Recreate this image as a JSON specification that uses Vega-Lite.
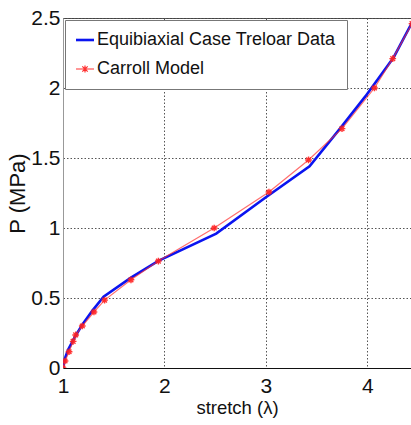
{
  "$schema": "https://vega.github.io/schema/vega-lite/v6.json",
  "width": 348,
  "height": 350,
  "autosize": {"type": "none"},
  "padding": {"left": 63, "top": 18, "right": 0, "bottom": 57},
  "background": "white",
  "config": {
    "view": {"stroke": "#444", "strokeWidth": 1},
    "font": "Liberation Sans",
    "axis": {
      "labelFont": "Liberation Sans",
      "titleFont": "Liberation Sans",
      "titleFontWeight": "normal",
      "labelColor": "#111",
      "titleColor": "#111",
      "ticks": false,
      "grid": true,
      "gridColor": "#555",
      "gridDash": [1.5, 2],
      "gridWidth": 1,
      "domainColor": "#999"
    }
  },
  "data": {
    "values": [
      {"series": "Equibiaxial Case Treloar Data", "stretch": 1.0, "P": 0.0},
      {"series": "Equibiaxial Case Treloar Data", "stretch": 1.02, "P": 0.07},
      {"series": "Equibiaxial Case Treloar Data", "stretch": 1.05, "P": 0.13},
      {"series": "Equibiaxial Case Treloar Data", "stretch": 1.12, "P": 0.225},
      {"series": "Equibiaxial Case Treloar Data", "stretch": 1.19, "P": 0.31},
      {"series": "Equibiaxial Case Treloar Data", "stretch": 1.29, "P": 0.41},
      {"series": "Equibiaxial Case Treloar Data", "stretch": 1.4, "P": 0.51},
      {"series": "Equibiaxial Case Treloar Data", "stretch": 1.67, "P": 0.645},
      {"series": "Equibiaxial Case Treloar Data", "stretch": 1.94, "P": 0.765},
      {"series": "Equibiaxial Case Treloar Data", "stretch": 2.51, "P": 0.96},
      {"series": "Equibiaxial Case Treloar Data", "stretch": 3.0, "P": 1.22},
      {"series": "Equibiaxial Case Treloar Data", "stretch": 3.43, "P": 1.44},
      {"series": "Equibiaxial Case Treloar Data", "stretch": 3.73, "P": 1.71},
      {"series": "Equibiaxial Case Treloar Data", "stretch": 3.98, "P": 1.94},
      {"series": "Equibiaxial Case Treloar Data", "stretch": 4.26, "P": 2.22},
      {"series": "Equibiaxial Case Treloar Data", "stretch": 4.5, "P": 2.55},
      {"series": "Carroll Model", "stretch": 1.0, "P": 0.0},
      {"series": "Carroll Model", "stretch": 1.02, "P": 0.05},
      {"series": "Carroll Model", "stretch": 1.06, "P": 0.116},
      {"series": "Carroll Model", "stretch": 1.1, "P": 0.19},
      {"series": "Carroll Model", "stretch": 1.125, "P": 0.236},
      {"series": "Carroll Model", "stretch": 1.19, "P": 0.3},
      {"series": "Carroll Model", "stretch": 1.305, "P": 0.4},
      {"series": "Carroll Model", "stretch": 1.41, "P": 0.485},
      {"series": "Carroll Model", "stretch": 1.67, "P": 0.63},
      {"series": "Carroll Model", "stretch": 1.94, "P": 0.764},
      {"series": "Carroll Model", "stretch": 2.49, "P": 1.0},
      {"series": "Carroll Model", "stretch": 3.03, "P": 1.257},
      {"series": "Carroll Model", "stretch": 3.42, "P": 1.486},
      {"series": "Carroll Model", "stretch": 3.75, "P": 1.71},
      {"series": "Carroll Model", "stretch": 4.07, "P": 2.0},
      {"series": "Carroll Model", "stretch": 4.25, "P": 2.21},
      {"series": "Carroll Model", "stretch": 4.44, "P": 2.46}
    ]
  },
  "encoding": {
    "x": {
      "field": "stretch",
      "type": "quantitative",
      "scale": {"domain": [1, 4.43], "nice": false, "zero": false},
      "axis": {
        "title": "stretch (λ)",
        "values": [1, 2, 3, 4],
        "labelFontSize": 21,
        "labelPadding": 7,
        "titleFontSize": 18.5,
        "titlePadding": 2,
        "domainColor": "#111",
        "labelFlush": false
      }
    },
    "y": {
      "field": "P",
      "type": "quantitative",
      "scale": {"domain": [0, 2.5], "nice": false},
      "axis": {
        "title": "P  (MPa)",
        "values": [0, 0.5, 1, 1.5, 2, 2.5],
        "labelExpr": "'' + datum.value",
        "labelFontSize": 21,
        "labelPadding": 3,
        "titleFontSize": 22,
        "titlePadding": 1,
        "labelFlush": false
      }
    }
  },
  "layer": [
    {
      "mark": {"type": "line", "clip": true, "strokeWidth": 2.6},
      "transform": [{"filter": "datum.series === 'Equibiaxial Case Treloar Data'"}],
      "encoding": {
        "color": {
          "field": "series",
          "type": "nominal",
          "scale": {
            "domain": ["Equibiaxial Case Treloar Data", "Carroll Model"],
            "range": ["#0a14f0", "#ff3030"]
          },
          "legend": {
            "title": null,
            "orient": "top-left",
            "offset": 2,
            "padding": 11,
            "fillColor": "white",
            "strokeColor": "#777",
            "labelFont": "Liberation Sans",
            "labelFontSize": 18,
            "labelColor": "#111",
            "labelLimit": 400,
            "labelOffset": 3,
            "rowPadding": 11,
            "symbolType": "stroke",
            "symbolSize": 324,
            "symbolStrokeWidth": 2,
            "encode": {
              "symbols": {
                "update": {
                  "shape": {"signal": "datum.value === 'Carroll Model' ? 'M-1,0H1M-0.3,-0.3L0.3,0.3M-0.3,0.3L0.3,-0.3M0,-0.38V0.38' : 'stroke'"},
                  "strokeWidth": {"signal": "datum.value === 'Carroll Model' ? 1.2 : 2.6"}
                }
              }
            }
          }
        }
      }
    },
    {
      "mark": {"type": "line", "clip": true, "strokeWidth": 1.2, "color": "#ff3030", "opacity": 0.7},
      "transform": [{"filter": "datum.series === 'Carroll Model'"}],
      "encoding": {}
    },
    {
      "mark": {
        "type": "point",
        "clip": true,
        "shape": "M-1,0H1M0,-1V1M-0.7,-0.7L0.7,0.7M-0.7,0.7L0.7,-0.7",
        "size": 45,
        "filled": false,
        "color": "#ff2020",
        "strokeWidth": 1.4,
        "opacity": 0.9
      },
      "transform": [{"filter": "datum.series === 'Carroll Model'"}],
      "encoding": {}
    }
  ]
}
